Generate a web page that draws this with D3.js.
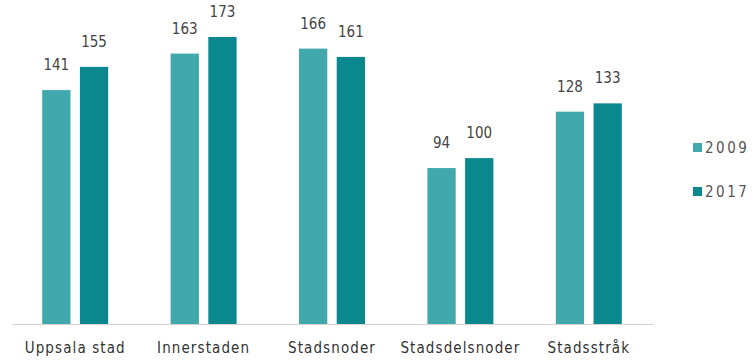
<!DOCTYPE html>
<html>
<head>
<meta charset="utf-8">
<script src="https://cdn.jsdelivr.net/npm/d3@7"></script>
<style>
  html, body { margin: 0; padding: 0; background: #fff; }
  svg text { font-family: "DejaVu Sans Condensed", "Liberation Sans Narrow", sans-serif; }
</style>
</head>
<body>
<svg id="chart" width="755" height="360"></svg>
<script>
const categories = ["Uppsala stad", "Innerstaden", "Stadsnoder", "Stadsdelsnoder", "Stadsstråk"];
const seriesNames = ["2009", "2017"];
const values2009 = [141, 163, 166, 94, 128];
const values2017 = [155, 173, 161, 100, 133];
const seriesColors = ["#41a8ae", "#0a888e"];

const svg = d3.select("#chart");
const baseline = 324;
const x0 = d3.scaleBand().domain(categories).range([11, 653]).paddingInner(0).paddingOuter(0);
const x1 = d3.scaleBand().domain(seriesNames).range([0, 66]).paddingInner(0.25);
const y = d3.scaleLinear().domain([0, 173]).range([baseline, 37]);

const data = categories.map((c, i) => ({ cat: c, vals: [values2009[i], values2017[i]] }));

const groups = svg.selectAll("g.grp").data(data).join("g")
  .attr("class", "grp")
  .attr("transform", d => `translate(${x0(d.cat) + (x0.bandwidth() - 66) / 2},0)`);

groups.selectAll("rect").data(d => d.vals.map((v, j) => ({ s: seriesNames[j], v, j }))).join("rect")
  .attr("x", d => x1(d.s))
  .attr("width", x1.bandwidth())
  .attr("y", d => y(d.v))
  .attr("height", d => baseline - y(d.v))
  .attr("fill", d => seriesColors[d.j]);

groups.selectAll("text.val").data(d => d.vals.map((v, j) => ({ s: seriesNames[j], v, j }))).join("text")
  .attr("class", "val")
  .attr("x", d => x1(d.s) + x1.bandwidth() / 2)
  .attr("y", d => y(d.v) - 20)
  .attr("text-anchor", "middle")
  .attr("font-size", 15)
  .attr("fill", "#444")
  .text(d => d.v);

// axis
const xAxis = d3.axisBottom(x0).tickSize(0).tickPadding(18);
const ax = svg.append("g").attr("transform", `translate(0,${baseline})`).call(xAxis);
ax.select(".domain").attr("stroke", "#dccfcf").attr("stroke-width", 1.2);
ax.selectAll("text").attr("font-size", 15).attr("fill", "#333").style("letter-spacing", "1.1px")
  .attr("font-family", "\"DejaVu Sans Condensed\", sans-serif");

// legend
const legend = svg.append("g").selectAll("g").data(seriesNames).join("g")
  .attr("transform", (d, i) => `translate(693,${143 + i * 44})`);
legend.append("rect").attr("width", 9).attr("height", 9).attr("fill", (d, i) => seriesColors[i]);
legend.append("text").attr("x", 12).attr("y", 10).attr("font-size", 15).attr("fill", "#555")
  .style("letter-spacing", "2.5px").text(d => d);
</script>
</body>
</html>
